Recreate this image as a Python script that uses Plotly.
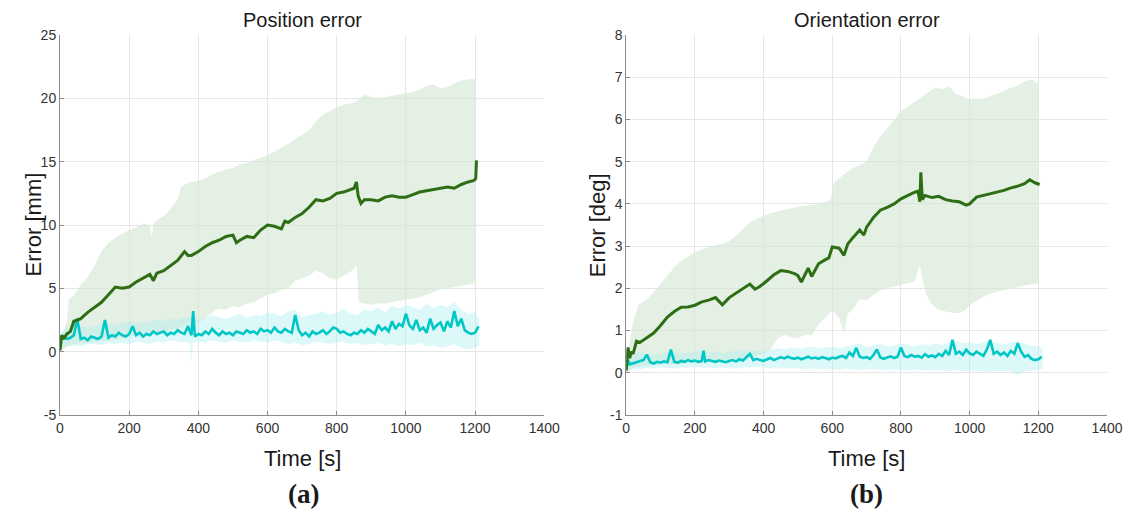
import plotly.graph_objects as go

# ---------------- Position error (a) ----------------
pos_mean_t = [0, 5, 10, 20, 30, 40, 50, 60, 80, 100, 120, 140, 160, 180, 200, 220, 240, 260, 270, 280,
              300, 320, 340, 360, 370, 380, 400, 420, 440, 460, 480, 500, 510, 520, 540, 560, 580, 600,
              620, 640, 650, 660, 680, 700, 720, 740, 760, 780, 800, 820, 840, 850, 857, 862, 870, 880,
              900, 920, 940, 960, 980, 1000, 1020, 1040, 1060, 1080, 1100, 1120, 1140, 1160, 1180,
              1195, 1200, 1202, 1204]
pos_mean_v = [0.1, 1.3, 1.0, 1.4, 1.6, 2.4, 2.5, 2.6, 3.1, 3.5, 3.9, 4.5, 5.1, 5.0, 5.1, 5.5, 5.8, 6.1, 5.6, 6.2,
              6.4, 6.8, 7.2, 7.9, 7.6, 7.6, 7.9, 8.3, 8.6, 8.8, 9.1, 9.2, 8.6, 8.8, 9.1, 9.0, 9.6, 10.0,
              9.9, 9.7, 10.3, 10.2, 10.6, 10.9, 11.4, 12.0, 11.9, 12.1, 12.5, 12.6, 12.8, 12.9, 13.4, 12.3, 11.7, 12.0,
              12.0, 11.9, 12.2, 12.3, 12.2, 12.2, 12.4, 12.6, 12.7, 12.8, 12.9, 13.0, 12.9, 13.2, 13.4,
              13.5, 13.6, 13.7, 15.1]

pos_hi_t = [0, 10, 20, 26, 40, 60, 80, 100, 120, 140, 160, 180, 200, 220, 240, 260, 265, 270, 280, 300,
            320, 340, 350, 360, 380, 400, 420, 440, 460, 480, 500, 520, 540, 560, 580, 600, 620, 640,
            660, 680, 700, 720, 740, 760, 780, 800, 820, 840, 860, 880, 900, 920, 940, 960, 980, 1000,
            1020, 1040, 1060, 1080, 1100, 1120, 1140, 1160, 1180, 1200]
pos_hi_v = [1.0, 1.5, 2.5, 4.2, 4.4, 5.3, 5.9, 6.8, 7.9, 8.6, 9.0, 9.3, 9.6, 9.8, 10.1, 10.0, 9.0, 10.1, 10.4, 10.7,
            11.3, 12.0, 13.0, 13.2, 13.4, 13.5, 13.7, 14.0, 14.2, 14.4, 14.5, 14.8, 14.9, 15.1, 15.3, 15.5, 15.8, 16.1,
            16.4, 16.8, 17.1, 17.5, 18.2, 18.7, 19.0, 19.3, 19.5, 19.6, 19.8, 20.3, 20.1, 20.0, 20.1, 20.2, 20.3, 20.4,
            20.5, 20.7, 21.0, 21.1, 20.8, 20.9, 21.2, 21.4, 21.5, 21.5]

pos_lo_t = [0, 20, 40, 60, 100, 150, 200, 250, 300, 350, 400, 420, 440, 460, 480, 500, 520, 540, 560, 580,
            600, 620, 640, 660, 680, 700, 720, 740, 760, 780, 800, 820, 840, 858, 864, 880, 900, 920, 940,
            960, 980, 1000, 1020, 1040, 1060, 1080, 1100, 1120, 1140, 1160, 1180, 1200]
pos_lo_v = [0.0, 0.4, 0.6, 0.7, 0.8, 0.9, 1.2, 1.4, 1.6, 1.9, 2.3, 2.6, 3.1, 3.4, 3.3, 3.6, 3.5, 3.8, 3.9, 4.2,
            4.5, 4.6, 4.9, 5.0, 5.6, 5.8, 6.0, 6.4, 6.2, 5.8, 5.7, 6.0, 6.3, 6.8, 3.9, 3.8, 3.7, 3.8, 3.8,
            3.9, 4.0, 4.1, 4.2, 4.3, 4.5, 4.7, 4.9, 5.0, 5.1, 5.2, 5.3, 5.4]

pos_cband_t = [0, 20, 40, 60, 80, 100, 120, 140, 160, 180, 200, 220, 240, 260, 280, 300, 320, 340, 360, 376, 380, 384,
               400, 420, 440, 460, 480, 500, 520, 540, 560, 580, 600, 620, 640, 660, 680, 700, 720, 740, 760,
               780, 800, 820, 840, 860, 880, 900, 920, 940, 960, 980, 1000, 1020, 1040, 1060, 1080, 1100,
               1120, 1140, 1160, 1180, 1200, 1212]
pos_cband_hi = [1.5, 1.9, 2.2, 2.0, 1.9, 2.0, 2.2, 2.3, 2.1, 2.3, 2.4, 2.3, 2.2, 2.4, 2.5, 2.4, 2.6, 2.5, 2.7, 2.7, 2.8, 2.7,
                2.5, 2.6, 2.9, 2.7, 2.6, 2.8, 3.0, 2.7, 2.9, 2.8, 3.1, 3.0, 2.8, 3.2, 3.3, 2.7, 2.9, 3.0, 3.2,
                2.9, 3.1, 3.4, 3.0, 2.9, 3.3, 3.2, 3.5, 3.1, 3.6, 3.4, 3.7, 3.5, 3.3, 3.8, 3.4, 3.7,
                3.5, 3.9, 3.3, 3.0, 3.1, 2.6]
pos_cband_lo = [0.2, 0.4, 0.5, 0.4, 0.6, 0.6, 0.5, 0.7, 0.6, 0.7, 0.6, 0.8, 0.7, 0.6, 0.8, 0.7, 0.9, 0.8, 0.7, 0.7, -1.0, 0.7,
                0.8, 0.7, 0.9, 0.8, 0.7, 0.9, 0.8, 0.7, 0.9, 0.8, 0.7, 0.9, 0.8, 0.6, 0.7, 0.5, 0.6, 0.8, 0.7,
                0.6, 0.7, 0.8, 0.6, 0.7, 0.5, 0.6, 0.7, 0.5, 0.6, 0.4, 0.6, 0.5, 0.7, 0.4, 0.5, 0.3,
                0.4, 0.6, 0.3, 0.2, 0.3, 0.5]

pos_cyan_t = [0, 10, 20, 30, 40, 50, 60, 70, 80, 90, 100, 110, 120, 130, 140, 150, 160, 170, 180, 190,
              200, 210, 220, 230, 240, 250, 260, 270, 280, 290, 300, 310, 320, 330, 340, 350, 360, 370, 380, 385,
              390, 400, 410, 420, 430, 440, 450, 460, 470, 480, 490, 500, 510, 520, 530, 540, 550, 560, 570, 580,
              590, 600, 610, 620, 630, 640, 650, 660, 670, 680, 690, 700, 710, 720, 730, 740, 750, 760, 770, 780,
              790, 800, 810, 820, 830, 840, 850, 860, 870, 880, 890, 900, 910, 920, 930, 940, 950, 960, 970, 980,
              990, 1000, 1010, 1020, 1030, 1040, 1050, 1060, 1070, 1080, 1090, 1100, 1110, 1120, 1130, 1140,
              1150, 1160, 1170, 1180, 1190, 1200, 1210]
pos_cyan_v = [0.9, 1.2, 1.0, 1.1, 1.3, 2.6, 1.0, 1.1, 0.9, 1.2, 1.1, 1.0, 1.2, 2.5, 1.1, 1.3, 1.2, 1.5, 1.3, 1.2,
              1.4, 2.0, 1.3, 1.5, 1.2, 1.4, 1.3, 1.6, 1.4, 1.5, 1.6, 1.3, 1.5, 1.4, 1.7, 1.5, 1.4, 2.0, 1.3, 3.2,
              1.2, 1.4, 1.3, 1.6, 1.4, 1.8, 1.5, 1.3, 1.6, 1.4, 1.5, 1.3, 1.6, 1.5, 1.4, 1.7, 1.5, 1.6, 1.4, 1.8,
              1.6, 1.7, 1.5, 1.9, 1.6, 1.5, 1.8, 1.6, 1.5, 2.9, 1.7, 1.3, 1.5, 1.2, 1.6, 1.4, 1.5, 1.7, 1.4, 1.6,
              1.9, 1.8, 1.5, 1.6, 1.4, 1.3, 1.5, 1.4, 1.7, 1.5, 1.8, 1.6, 1.4, 2.1, 1.7, 1.9, 1.6, 2.4, 1.8, 2.2,
              2.0, 3.0, 2.1, 1.8, 2.5, 1.7, 1.9, 1.5, 2.6, 1.8, 2.1, 2.3, 1.6, 2.4, 1.9, 3.2,
              2.0, 2.6, 1.7, 1.5, 1.4, 1.5, 2.0]

# ---------------- Orientation error (b) ----------------
ori_mean_t = [0, 5, 10, 15, 20, 30, 40, 60, 80, 100, 120, 140, 160, 180, 200, 220, 240, 260, 270, 280,
              300, 320, 340, 360, 375, 390, 410, 430, 450, 470, 490, 500, 510, 520, 530, 540, 560, 580, 590,
              600, 620, 634, 645, 660, 680, 692, 700, 720, 740, 760, 780, 800, 820, 840, 850, 855, 858, 862,
              870, 890, 910, 930, 950, 970, 990, 1000, 1020, 1040, 1060, 1080, 1100, 1120, 1140, 1160,
              1175, 1190, 1204]
ori_mean_v = [0.05, 0.6, 0.35, 0.5, 0.45, 0.75, 0.72, 0.82, 0.94, 1.12, 1.32, 1.45, 1.55, 1.56, 1.6, 1.68, 1.72, 1.78, 1.7, 1.61,
              1.78, 1.88, 1.98, 2.1, 1.98, 2.05, 2.18, 2.32, 2.42, 2.4, 2.35, 2.3, 2.15, 2.3, 2.48, 2.28, 2.58, 2.68, 2.72,
              2.98, 2.95, 2.78, 3.05, 3.2, 3.38, 3.26, 3.45, 3.68, 3.85, 3.92, 4.0, 4.12, 4.2, 4.28, 4.3, 4.05, 4.75, 4.1,
              4.2, 4.15, 4.18, 4.1, 4.07, 4.05, 3.97, 4.0, 4.16, 4.2, 4.25, 4.28, 4.32, 4.38, 4.42, 4.48,
              4.57, 4.5, 4.46]

ori_hi_t = [0, 10, 20, 28, 35, 60, 80, 100, 120, 140, 160, 180, 200, 220, 240, 260, 280, 300, 320, 340,
            360, 380, 400, 420, 440, 460, 480, 500, 520, 540, 560, 580, 595, 605, 620, 640, 660, 680, 700,
            720, 740, 760, 780, 800, 820, 840, 860, 880, 900, 920, 940, 960, 980, 1000, 1020, 1040, 1060,
            1080, 1100, 1120, 1140, 1160, 1180, 1200]
ori_hi_v = [0.3, 0.8, 1.2, 1.4, 1.6, 1.75, 1.9, 2.1, 2.3, 2.5, 2.65, 2.75, 2.85, 2.92, 2.98, 3.02, 3.05, 3.12, 3.25, 3.42,
            3.56, 3.65, 3.72, 3.78, 3.82, 3.86, 3.9, 3.93, 3.95, 3.97, 4.0, 4.05, 4.1, 4.5, 4.6, 4.74, 4.85, 4.92, 5.0,
            5.35, 5.6, 5.78, 6.0, 6.2, 6.3, 6.42, 6.52, 6.65, 6.75, 6.72, 6.78, 6.6, 6.55, 6.48, 6.5, 6.49, 6.55,
            6.6, 6.68, 6.75, 6.8, 6.9, 6.95, 6.85]

ori_lo_t = [0, 20, 50, 100, 150, 200, 250, 300, 350, 400, 420, 440, 460, 480, 500, 520, 540, 560, 580, 600,
            620, 634, 645, 660, 680, 700, 720, 740, 760, 780, 800, 820, 840, 855, 860, 870, 880, 895, 910,
            930, 950, 970, 990, 1000, 1020, 1040, 1060, 1080, 1100, 1120, 1140, 1160, 1180, 1200]
ori_lo_v = [0.0, 0.12, 0.15, 0.2, 0.2, 0.25, 0.25, 0.3, 0.35, 0.45, 0.55, 0.8, 0.9, 0.85, 0.82, 0.9, 0.88, 1.15, 1.3, 1.48,
            1.3, 0.95, 1.4, 1.5, 1.75, 1.72, 1.85, 1.95, 2.0, 2.05, 2.08, 2.12, 2.16, 2.55, 2.3, 1.95, 1.75, 1.57, 1.5,
            1.45, 1.42, 1.41, 1.5, 1.6, 1.7, 1.8, 1.87, 1.92, 1.96, 2.0, 2.03, 2.07, 2.1, 2.12]

ori_cband_t = [0, 20, 40, 60, 80, 100, 120, 140, 160, 180, 200, 220, 240, 260, 280, 300, 320, 340, 360, 380,
               400, 420, 440, 460, 480, 500, 520, 540, 560, 580, 600, 620, 640, 660, 680, 700, 720, 740, 760,
               780, 800, 820, 840, 860, 880, 900, 920, 940, 960, 980, 1000, 1020, 1040, 1060, 1080, 1100,
               1120, 1140, 1160, 1180, 1200, 1212]
ori_cband_hi = [0.4, 0.45, 0.5, 0.45, 0.42, 0.45, 0.48, 0.5, 0.45, 0.47, 0.5, 0.52, 0.48, 0.5, 0.47, 0.5, 0.53, 0.5, 0.55, 0.52,
                0.5, 0.55, 0.58, 0.55, 0.6, 0.57, 0.6, 0.62, 0.58, 0.6, 0.62, 0.58, 0.62, 0.65, 0.7, 0.6, 0.65, 0.68, 0.62,
                0.65, 0.7, 0.66, 0.62, 0.68, 0.65, 0.7, 0.66, 0.72, 0.75, 0.7, 0.73, 0.68, 0.72, 0.75, 0.7, 0.68,
                0.72, 0.75, 0.68, 0.65, 0.62, 0.6]
ori_cband_lo = [0.05, 0.1, 0.08, 0.12, 0.1, 0.13, 0.12, 0.1, 0.13, 0.12, 0.14, 0.12, 0.13, 0.11, 0.13, 0.12, 0.1, 0.13, 0.12, 0.14,
                0.12, 0.1, 0.12, 0.1, 0.12, 0.1, 0.09, 0.11, 0.08, 0.1, 0.09, 0.07, 0.1, 0.08, 0.06, 0.09, 0.07, 0.08, 0.06,
                0.08, 0.07, 0.05, 0.08, 0.06, 0.07, 0.05, 0.06, 0.04, 0.06, 0.05, 0.03, 0.06, 0.04, 0.02, 0.05, 0.03,
                0.04, -0.05, 0.03, 0.05, 0.06, 0.1]

ori_cyan_t = [0, 5, 10, 20, 30, 40, 50, 60, 70, 80, 90, 100, 110, 120, 130, 140, 150, 160, 170, 180,
              190, 200, 210, 220, 225, 230, 240, 250, 260, 270, 280, 290, 300, 310, 320, 330, 340, 350, 360, 370,
              380, 390, 400, 410, 420, 430, 440, 450, 460, 470, 480, 490, 500, 510, 520, 530, 540, 550, 560, 570,
              580, 590, 600, 610, 620, 630, 640, 650, 660, 670, 680, 690, 700, 710, 720, 730, 740, 750, 760, 770,
              780, 790, 800, 810, 820, 830, 840, 850, 860, 870, 880, 890, 900, 910, 920, 930, 940, 950, 960, 970,
              980, 990, 1000, 1010, 1020, 1030, 1040, 1050, 1060, 1070, 1080, 1090, 1100, 1110, 1120, 1130,
              1140, 1150, 1160, 1170, 1180, 1190, 1200, 1210]
ori_cyan_v = [0.1, 0.3, 0.2, 0.22, 0.25, 0.28, 0.3, 0.43, 0.25, 0.22, 0.26, 0.24, 0.27, 0.25, 0.55, 0.26, 0.24, 0.28, 0.26, 0.3,
              0.27, 0.29, 0.26, 0.28, 0.52, 0.27, 0.3, 0.28, 0.26, 0.29, 0.27, 0.25, 0.28, 0.3, 0.27, 0.32, 0.29, 0.36, 0.45, 0.3,
              0.33, 0.3, 0.28, 0.32, 0.35, 0.3, 0.33, 0.37, 0.34, 0.38, 0.35, 0.33, 0.36, 0.32, 0.35, 0.38, 0.34, 0.36, 0.33, 0.37,
              0.35, 0.32, 0.36, 0.34, 0.38, 0.4, 0.35, 0.48, 0.4, 0.59, 0.38, 0.35, 0.37, 0.33, 0.42, 0.55, 0.36, 0.33, 0.36, 0.39,
              0.35, 0.38, 0.6, 0.4, 0.37, 0.42, 0.38, 0.4, 0.36, 0.44, 0.38, 0.41, 0.37, 0.45, 0.4, 0.52, 0.42, 0.78, 0.45, 0.5,
              0.42, 0.55, 0.46, 0.42, 0.5, 0.45, 0.4, 0.55, 0.78, 0.45, 0.5, 0.42, 0.48, 0.4, 0.52, 0.45,
              0.7, 0.5, 0.38, 0.42, 0.33, 0.3, 0.32, 0.38]

x_ticks = [0, 200, 400, 600, 800, 1000, 1200, 1400]
pos_y_ticks = [-5, 0, 5, 10, 15, 20, 25]
ori_y_ticks = [-1, 0, 1, 2, 3, 4, 5, 6, 7, 8]

GREEN_LINE = "#2d6e14"
GREEN_FILL = "rgba(214,232,214,0.65)"
CYAN_LINE = "#00c6c6"
CYAN_FILL = "rgba(170,238,238,0.4)"

W, H = 1128, 512
ML, MR, MT, MB = 59.5, 21, 35, 97
PW = W - ML - MR
PH = H - MT - MB


def px(x):
    return (x - ML) / PW


def py(y):
    return (H - MB - y) / PH


fig = go.Figure()


def band(t_hi, v_hi, t_lo, v_lo, color, xa, ya):
    fig.add_trace(go.Scatter(x=list(t_hi) + list(t_lo)[::-1], y=list(v_hi) + list(v_lo)[::-1],
                             fill="toself", fillcolor=color, line=dict(width=0), mode="lines",
                             hoverinfo="skip", showlegend=False, xaxis=xa, yaxis=ya))


def line(t, v, color, width, xa, ya):
    fig.add_trace(go.Scatter(x=t, y=v, mode="lines", line=dict(color=color, width=width),
                             hoverinfo="skip", showlegend=False, xaxis=xa, yaxis=ya))


band(pos_hi_t, pos_hi_v, pos_lo_t, pos_lo_v, GREEN_FILL, "x", "y")
band(pos_cband_t, pos_cband_hi, pos_cband_t, pos_cband_lo, CYAN_FILL, "x", "y")
line(pos_cyan_t, pos_cyan_v, CYAN_LINE, 2.6, "x", "y")
line(pos_mean_t, pos_mean_v, GREEN_LINE, 3, "x", "y")

band(ori_hi_t, ori_hi_v, ori_lo_t, ori_lo_v, GREEN_FILL, "x2", "y2")
band(ori_cband_t, ori_cband_hi, ori_cband_t, ori_cband_lo, CYAN_FILL, "x2", "y2")
line(ori_cyan_t, ori_cyan_v, CYAN_LINE, 2.6, "x2", "y2")
line(ori_mean_t, ori_mean_v, GREEN_LINE, 3, "x2", "y2")

SANS = "Liberation Sans"
SERIF = "Liberation Serif"

axis_common = dict(showline=True, linecolor="#8c8c8c", linewidth=1, ticks="inside", ticklen=4,
                   tickcolor="#8c8c8c", showgrid=True, gridcolor="#e6e6e6", gridwidth=1, zeroline=False,
                   tickfont=dict(family=SANS, size=14, color="#333333"), mirror=False, automargin=False)

d1 = [0, px(544)]
d2 = [px(626), 1]

fig.update_layout(
    width=W, height=H, margin=dict(l=ML, r=MR, t=MT, b=MB, autoexpand=False),
    paper_bgcolor="white", plot_bgcolor="white",
    xaxis=dict(domain=d1, range=[0, 1400], tickvals=x_ticks, anchor="y", **axis_common),
    yaxis=dict(domain=[0, 1], range=[-5, 25], tickvals=pos_y_ticks,
               ticktext=[str(v) for v in pos_y_ticks], anchor="x", **axis_common),
    xaxis2=dict(domain=d2, range=[0, 1400], tickvals=x_ticks, anchor="y2", **axis_common),
    yaxis2=dict(domain=[0, 1], range=[-1, 8], tickvals=ori_y_ticks,
                ticktext=[str(v) for v in ori_y_ticks], anchor="x2", **axis_common),
)

ann = [
    dict(text="Position error", x=px(302), y=py(20), size=20, fam=SANS, angle=0),
    dict(text="Orientation error", x=px(866.5), y=py(20), size=20, fam=SANS, angle=0),
    dict(text="Error [mm]", x=px(32), y=py(225), size=22, fam=SANS, angle=-90),
    dict(text="Error [deg]", x=px(597), y=py(225), size=22, fam=SANS, angle=-90),
    dict(text="Time [s]", x=px(302), y=py(458), size=22, fam=SANS, angle=0),
    dict(text="Time [s]", x=px(866.5), y=py(458), size=22, fam=SANS, angle=0),
    dict(text="<b>(a)</b>", x=px(303), y=py(494), size=27, fam=SERIF, angle=0),
    dict(text="<b>(b)</b>", x=px(866), y=py(494), size=27, fam=SERIF, angle=0),
]
for a in ann:
    fig.add_annotation(text=a["text"], x=a["x"], y=a["y"], xref="paper", yref="paper",
                       showarrow=False, xanchor="center", yanchor="middle", textangle=a["angle"],
                       font=dict(family=a["fam"], size=a["size"], color="#1a1a1a"))

fig.write_html("out.html", config={"displayModeBar": False},
               post_script="document.body.style.margin='0px';document.body.style.overflow='hidden';")
